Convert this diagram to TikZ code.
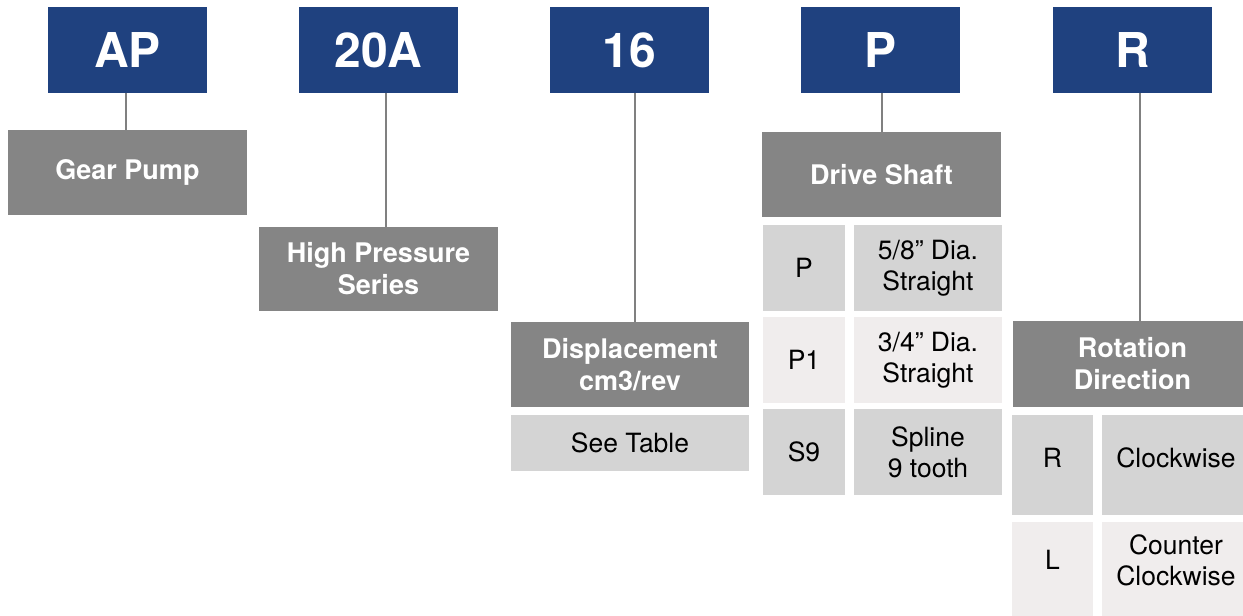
\documentclass[tikz,border=0pt]{standalone}
\usepackage{fontspec}
\setmainfont{TeX Gyre Heros}
\definecolor{hdr}{HTML}{1F417F}
\definecolor{dk}{HTML}{858585}
\definecolor{lt}{HTML}{D4D4D4}
\definecolor{vlt}{HTML}{F0EDED}
\definecolor{ln}{HTML}{808080}
\tikzset{
  base/.style={inner sep=0pt, outer sep=0pt, align=center},
  hdrbox/.style={base, fill=hdr, text=white, minimum width=159pt, minimum height=86pt, font=\fontsize{48}{50}\selectfont\bfseries},
  catbox/.style={base, fill=dk, text=white, minimum width=239pt, minimum height=85pt, font=\fontsize{27}{32}\selectfont\bfseries},
  celltxt/.style={base, text=black, font=\fontsize{26.5}{31}\selectfont},
  codecell/.style={celltxt, minimum width=82pt, minimum height=86pt},
  desccell/.style={celltxt, minimum width=148pt, minimum height=86pt},
  conn/.style={draw=ln, line width=2pt}
}
\begin{document}
\begin{tikzpicture}[x=1pt,y=-1pt]
\useasboundingbox (0,0) rectangle (1243,616);
\clip (0,0) rectangle (1243,616);
\fill[white] (0,0) rectangle (1243,616);
% header boxes
\node[hdrbox] (ap)  at (127.5,50) {AP};
\node[hdrbox] (a20) at (378.5,50) {20A};
\node[hdrbox] (s16) at (629.5,50) {16};
\node[hdrbox] (sp)  at (880.5,50) {P};
\node[hdrbox] (sr)  at (1132.5,50) {R};
% category boxes
\node[catbox] (gp)   at (127.5,172.5) {Gear Pump};
\node[catbox, minimum height=84pt] (hp) at (378.5,269) {High Pressure\\Series};
\node[catbox, minimum width=238pt] (disp) at (630,364.5) {Displacement\\cm3/rev};
\node[celltxt, fill=lt, minimum width=238pt, minimum height=56pt] (see) at (630,443) {See Table};
\node[catbox] (ds)   at (881.5,174.5) {Drive Shaft};
\node[catbox, minimum height=86pt] (rot) at (1132.5,364) {Rotation\\Direction};
% drive shaft table
\node[codecell, fill=lt]  (p1c) at (804,268) {P};
\node[desccell, fill=lt]  (p1d) at (928,268) {5/8” Dia.\\Straight};
\node[codecell, fill=vlt] (p2c) at (804,360) {P1};
\node[desccell, fill=vlt] (p2d) at (928,360) {3/4” Dia.\\Straight};
\node[codecell, fill=lt]  (p3c) at (804,452) {S9};
\node[desccell, fill=lt]  (p3d) at (928,452) {Spline\\9 tooth};
% rotation table
\node[base, fill=lt,  minimum width=81pt,  minimum height=100pt] (r1c) at (1052.5,465) {};
\node[base, fill=lt,  minimum width=148pt, minimum height=100pt] (r1d) at (1176,465) {};
\node[base, fill=vlt, minimum width=81pt,  minimum height=100pt] (r2c) at (1052.5,572) {};
\node[base, fill=vlt, minimum width=148pt, minimum height=100pt] (r2d) at (1176,572) {};
\node[celltxt] (r1ct) at ([yshift=7pt]r1c.center) {R};
\node[celltxt] (r1dt) at ([yshift=7pt]r1d.center) {Clockwise};
\node[celltxt] (r2ct) at ([yshift=12pt]r2c.center) {L};
\node[celltxt] (r2dt) at ([yshift=12pt]r2d.center) {Counter\\Clockwise};
% connectors
\draw[conn] ([xshift=-1.5pt]ap.south) -- ([xshift=-1.5pt]ap.south |- gp.north);
\draw[conn] ([xshift=7.5pt]a20.south) -- ([xshift=7.5pt]a20.south |- hp.north);
\draw[conn] ([xshift=5.5pt]s16.south) -- ([xshift=5.5pt]s16.south |- disp.north);
\draw[conn] ([xshift=1.5pt]sp.south) -- ([xshift=1.5pt]sp.south |- ds.north);
\draw[conn] ([xshift=7.5pt]sr.south) -- ([xshift=7.5pt]sr.south |- rot.north);
\end{tikzpicture}
\end{document}
